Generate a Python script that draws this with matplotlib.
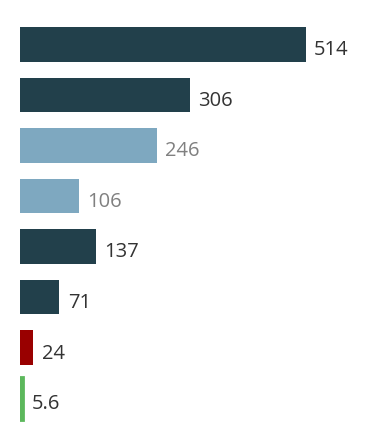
import matplotlib
matplotlib.use("Agg")
import matplotlib.pyplot as plt

values = [514, 306, 246, 106, 137, 71, 24, 5.6]
labels = ["514", "306", "246", "106", "137", "71", "24", "5.6"]
colors = ["#22404b", "#22404b", "#7ea8c0", "#7ea8c0", "#22404b", "#22404b", "#990000", "#5cb85c"]
text_colors = ["#333333", "#333333", "#808080", "#808080", "#333333", "#333333", "#333333", "#333333"]
heights = [0.69] * 7 + [0.85]

plt.rcParams['font.family'] = ['Open Sans', 'DejaVu Sans']

fig = plt.figure(figsize=(3.76, 4.44), dpi=100)
ax = fig.add_axes([20 / 376, 0, 356 / 376, 1])

pos = list(range(len(values)))
bars = ax.barh(pos, values, height=heights, color=colors)
# the tiny green bar looks a bit wider in the original
bars[-1].set_edgecolor(colors[-1])
bars[-1].set_linewidth(2)

for i, v in enumerate(values):
    ax.annotate(labels[i], (v, i), xytext=(6, -2.5), textcoords="offset points",
                va="center_baseline", ha="left", fontsize=14.5, color=text_colors[i])

ax.set_xlim(0, 640)
ax.set_ylim(7.91, -0.881)
ax.axis("off")

fig.savefig("out.png", dpi=100)
